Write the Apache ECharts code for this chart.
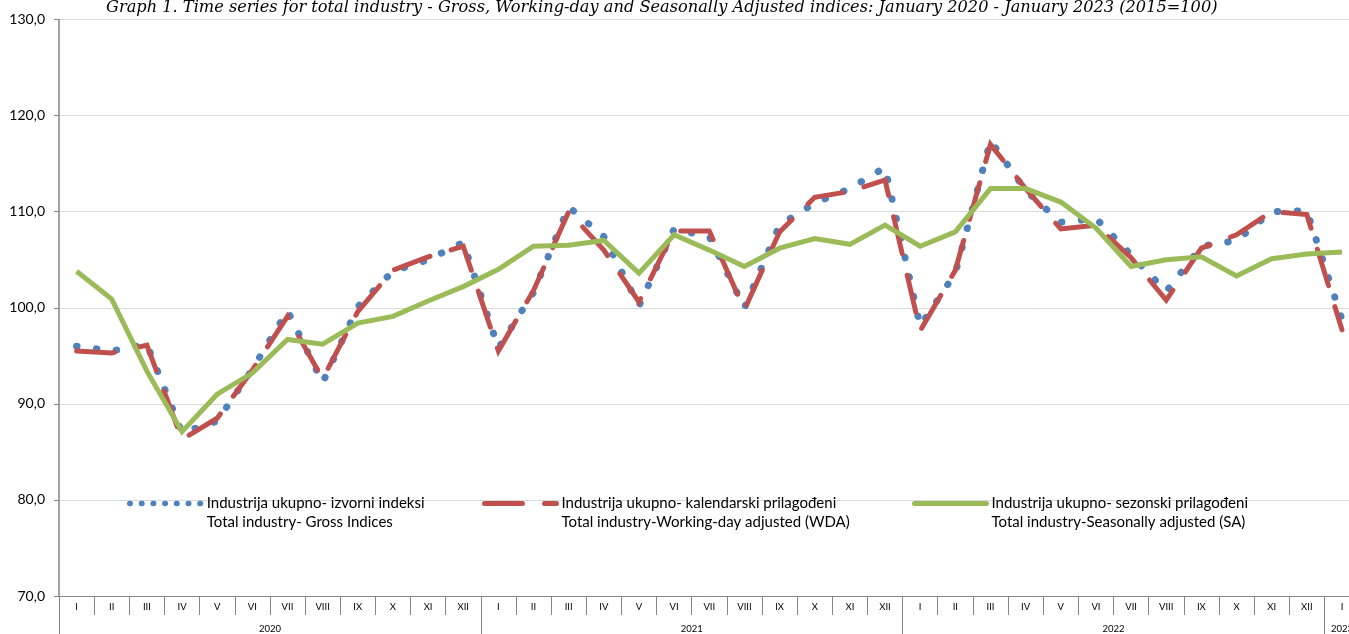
<!DOCTYPE html>
<html>
<head>
<meta charset="utf-8">
<script src="https://cdn.jsdelivr.net/npm/echarts@6/dist/echarts.min.js"></script>
<style>
html,body{margin:0;padding:0;background:#fff;overflow:hidden;width:1349px;height:634px;}
#chart{width:1370px;height:634px;}
</style>
</head>
<body>
<div id="chart"></div>
<script>
// ---- data ----
const monthLabels = ['I','II','III','IV','V','VI','VII','VIII','IX','X','XI','XII'];
const yearLabels = ['2020','2021','2022','2023'];
const monthsPerYear = [12, 12, 12, 1];

const gross = [96.0, 95.5, 96.2, 87.0, 88.2, 93.6, 99.7, 92.2, 100.1, 103.8, 105.0, 106.8,
               95.8, 101.6, 110.5, 107.4, 100.2, 108.2, 107.4, 100.0, 108.6, 110.9, 112.4, 114.6,
               98.1, 103.6, 117.4, 112.2, 108.9, 109.3, 105.5, 101.7, 106.4, 107.0, 110.0, 110.1,
               98.8];
const wda   = [95.5, 95.3, 96.1, 86.3, 88.5, 93.5, 99.1, 92.6, 99.6, 103.9, 105.3, 106.4,
               95.5, 101.8, 110.0, 106.0, 100.6, 108.0, 108.0, 99.8, 107.9, 111.5, 112.1, 113.3,
               97.6, 103.9, 117.0, 112.4, 108.2, 108.6, 105.2, 100.8, 106.2, 107.6, 110.0, 109.7,
               97.7];
const sa    = [103.8, 100.9, 93.4, 87.1, 91.0, 93.2, 96.7, 96.2, 98.4, 99.1, 100.7, 102.2,
               104.0, 106.4, 106.5, 107.0, 103.6, 107.6, 106.0, 104.3, 106.2, 107.2, 106.6, 108.6,
               106.4, 107.9, 112.4, 112.4, 111.0, 108.3, 104.3, 105.0, 105.3, 103.3, 105.1, 105.6,
               105.8];

const seriesNames = [
  'Industrija ukupno- izvorni indeksi\nTotal industry- Gross Indices',
  'Industrija ukupno- kalendarski prilagođeni\nTotal industry-Working-day adjusted (WDA)',
  'Industrija ukupno- sezonski prilagođeni\nTotal industry-Seasonally adjusted (SA)'
];
const titleText = 'Graph 1. Time series for total industry - Gross, Working-day and Seasonally Adjusted indices: January 2020 - January 2023 (2015=100)';

// ---- build categories ----
const monthCats = [];
const yearCats = [];
yearLabels.forEach((y, yi) => {
  for (let m = 0; m < monthsPerYear[yi]; m++) {
    monthCats.push(monthLabels[m]);
    yearCats.push(y);
  }
});
const nCats = monthCats.length;
const yearStart = {};
const yearMid = {};
{
  let idx = 0;
  yearLabels.forEach((y, yi) => {
    yearStart[idx] = true;
    yearMid[idx + Math.floor((monthsPerYear[yi] - 1) / 2)] = monthsPerYear[yi] % 2 === 0 ? 'shift' : 'center';
    idx += monthsPerYear[yi];
  });
}

const COLORS = {blue: '#4F81BD', red: '#C0504D', green: '#9BBB59'};
const FONT = 'Lato';
const catWidth = 35.15;

const chart = echarts.init(document.getElementById('chart'), null, {renderer: 'canvas'});

const legendCommon = {
  orient: 'horizontal',
  padding: 0,
  itemWidth: 72,
  itemHeight: 14,
  itemGap: 0,
  selectedMode: false,
  formatter: (name) => ' \n' + name,
  itemStyle: {opacity: 0, color: 'transparent', borderWidth: 0},
  textStyle: {fontFamily: FONT, fontSize: 15, color: '#000', lineHeight: 19}
};

const option = {
  animation: false,
  backgroundColor: '#ffffff',
  title: {
    text: titleText,
    left: 106,
    top: 0,
    padding: 0,
    textStyle: {fontFamily: 'DejaVu Serif', fontStyle: 'italic', fontWeight: 'normal', fontSize: 16.2, color: '#000'}
  },
  legend: [
    Object.assign({}, legendCommon, {
      data: [seriesNames[0]], left: 127, top: 475,
      lineStyle: {width: 5.5, type: [0.5, 11.2], cap: 'round', color: COLORS.blue}
    }),
    Object.assign({}, legendCommon, {
      data: [seriesNames[1]], left: 482, top: 475,
      lineStyle: {width: 5, type: [38, 22], cap: 'round', color: COLORS.red}
    }),
    Object.assign({}, legendCommon, {
      data: [seriesNames[2]], left: 912, top: 475,
      lineStyle: {width: 5, type: 'solid', cap: 'round', color: COLORS.green}
    })
  ],
  grid: {left: 59, top: 19.5, width: catWidth * nCats, height: 577.8, containLabel: false},
  xAxis: [
    {
      type: 'category',
      data: monthCats,
      boundaryGap: true,
      position: 'bottom',
      axisLine: {show: true, lineStyle: {color: '#868686', width: 1}},
      axisTick: {show: true, interval: 0, length: 19, lineStyle: {color: '#868686', width: 1}},
      axisLabel: {interval: 0, margin: 6, fontFamily: FONT, fontSize: 9.5, color: '#000'},
      splitLine: {show: false}
    },
    {
      type: 'category',
      data: yearCats,
      boundaryGap: true,
      position: 'bottom',
      axisLine: {show: false},
      axisTick: {show: true, length: 40, interval: (i) => !!yearStart[i], lineStyle: {color: '#868686', width: 1}},
      axisLabel: {
        interval: 0, margin: 28, fontFamily: FONT, fontSize: 9.5, color: '#000',
        formatter: (v, i) => {
          if (yearMid[i] === 'shift') return '{s|' + v + '}';
          if (yearMid[i] === 'center') return v;
          return '';
        },
        rich: {s: {fontFamily: FONT, fontSize: 9.5, color: '#000', padding: [0, 0, 0, catWidth]}}
      },
      splitLine: {show: false}
    }
  ],
  yAxis: {
    type: 'value',
    min: 70,
    max: 130,
    interval: 10,
    axisLine: {show: true, lineStyle: {color: '#868686', width: 1.5}},
    axisTick: {show: true, length: 5, lineStyle: {color: '#868686', width: 1}},
    axisLabel: {
      margin: 14, fontFamily: FONT, fontSize: 14, color: '#000',
      formatter: (v) => v.toFixed(1).replace('.', ',')
    },
    splitLine: {show: true, lineStyle: {color: '#d9d9d9', width: 1}}
  },
  series: [
    {
      name: seriesNames[0], type: 'line', data: gross, xAxisIndex: 0,
      symbol: 'none', z: 2,
      lineStyle: {color: COLORS.blue, width: 7, type: [0.5, 19.5], cap: 'round', join: 'round'},
      itemStyle: {color: COLORS.blue}
    },
    {
      name: seriesNames[1], type: 'line', data: wda, xAxisIndex: 0,
      symbol: 'none', z: 3,
      lineStyle: {color: COLORS.red, width: 5, type: [38, 22], cap: 'round', join: 'miter'},
      itemStyle: {color: COLORS.red}
    },
    {
      name: seriesNames[2], type: 'line', data: sa, xAxisIndex: 0,
      symbol: 'none', z: 4,
      lineStyle: {color: COLORS.green, width: 5, type: 'solid', cap: 'butt', join: 'miter'},
      itemStyle: {color: COLORS.green}
    }
  ]
};
chart.setOption(option);
</script>
</body>
</html>
